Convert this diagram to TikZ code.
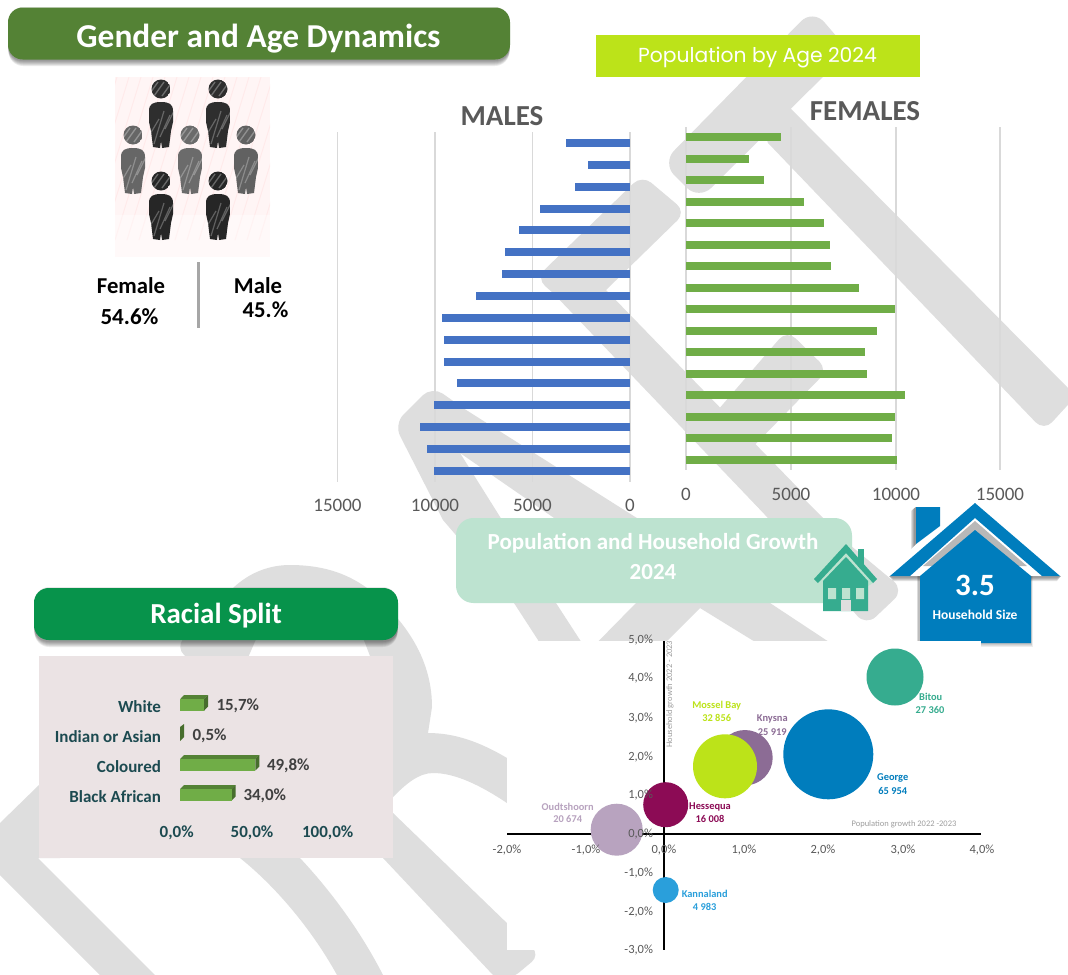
\documentclass[tikz,border=0pt]{standalone}
\usepackage{fontspec}
\setmainfont{Carlito}
\newfontfamily\popfont{Poppins}
\usetikzlibrary{calc}
\definecolor{wm}{HTML}{DEDEDE}
\definecolor{gridc}{HTML}{D9D9D9}
\definecolor{malec}{HTML}{4472C4}
\definecolor{femc}{HTML}{70AD47}
\definecolor{darkgr}{HTML}{548235}
\definecolor{tealh}{HTML}{36AC8F}
\definecolor{blueh}{HTML}{007DBD}
\definecolor{lime}{HTML}{BCE319}
\definecolor{axt}{HTML}{595959}
\definecolor{racet}{HTML}{1C4A50}
\definecolor{mint}{RGB}{189,227,208}
\definecolor{raceg}{RGB}{7,147,75}
\definecolor{pinkb}{RGB}{235,227,228}
\newcommand{\pxf}[1]{\fontsize{\dimexpr#1pt*3/4\relax}{\dimexpr#1pt*9/10\relax}\selectfont}
% soft shadow: x1 y1 x2 y2 radius(pt)
\newcommand{\softshade}[5]{%
  \foreach \g in {0,1,...,5}{%
    \fill[black,opacity=.08,rounded corners=#5]
      ({#1+\g*.1},{#2+3-\g*.8}) rectangle ({#3-\g*.1},{#4+2+\g*1.0});}}
\newcommand{\personfig}[3]{% cx, y head, colour
  \begin{scope}[shift={(#1,#2)}]
    \begin{scope}
      \clip (0,0) circle (9.5);
      \fill[#3] (0,0) circle (9.5);
      \foreach \q in {-8,-2,6}{\draw[white,opacity=.3,line width=1pt] (\q-5,7)--(\q+5,-7);}
    \end{scope}
    \begin{scope}
      \clip (-12,22) .. controls (-12,15) and (-8,13) .. (0,13) .. controls (8,13) and (12,15) .. (12,22)
        -- (12,33) -- (10,42) -- (8,58) -- (1,59) -- (0,52) -- (-1,59) -- (-8,58) -- (-10,42) -- (-12,33) -- cycle;
      \fill[#3] (-13,12) rectangle (13,60);
      \foreach \q/\a/\b in {-7/47/30,-2/55/22,4/48/26,9/40/20}{\draw[white,opacity=.27,line width=.9pt] (\q-5,\a)--(\q+5,\b);}
    \end{scope}
  \end{scope}}
\tikzset{
  txt/.style={inner sep=0pt,outer sep=0pt,anchor=center},
  gridl/.style={gridc,line width=.9pt},
  axnum/.style={txt,text=axt},
  bnum/.style={txt,text=axt,font=\pxf{12.5}},
  racelab/.style={txt,anchor=east,text=racet,font=\pxf{17}\bfseries},
  raceval/.style={txt,anchor=west,text=black!75,font=\pxf{17}\bfseries},
  raceax/.style={txt,text=racet,font=\pxf{17}\bfseries},
  bub/.style={txt,font=\pxf{10.4}\bfseries},
}
\begin{document}
\begin{tikzpicture}[x=0.75pt,y=-0.75pt]
\useasboundingbox (0,0) rectangle (1068,975);
\clip (0,0) rectangle (1068,975);
\fill[white] (0,0) rectangle (1068,975);
% ---------- watermark ----------
\fill[wm,rounded corners=13pt] (813,9) -- (849,51) -- (699,200) -- (662,163) -- cycle;
\fill[wm] (790,108) -- (806,124) [rounded corners=9pt] -- (1076,396) -- (1044,431) [sharp corners] -- (768,143) -- (760,120) -- cycle;
\fill[wm,rounded corners=9pt] (642,175) -- (686,212) [sharp corners] -- (606,290) -- (800,490) -- (770,520) -- (553,293) [rounded corners=9pt] -- (536,278) -- cycle;
\fill[wm] (748,443) -- (825,520) -- (850,545) [rounded corners=10pt] -- (904,590) -- (866,626) [sharp corners] -- (835,590) -- (770,520) -- (715,460) -- cycle;
\fill[wm,rounded corners=9pt] (787,330) -- (828,370) [sharp corners] -- (745,455) -- (705,425) [rounded corners=9pt] -- cycle;
\fill[wm] (463,408) -- (640,520) -- (770,603) -- (826,640) -- (860,662) -- (790,662) -- (752,640) -- (700,608) -- (557,520) -- (460,453) -- (502,520) -- (556,603) -- (580,640) -- (595,662) -- (548,662) -- (538,640) -- (514,603) -- (443,520) [rounded corners=10pt] -- (394,424) -- (432,386) [sharp corners] -- cycle;
\fill[wm] (672,565) -- (737,572) -- (700,608) -- (668,640) -- (645,662) -- (578,662) -- (636,603) -- cycle;
% dome
\fill[wm] (233,588) .. controls (250,572) and (270,565) .. (290,565) .. controls (320,565) and (345,572) .. (367,588)
  .. controls (395,612) and (432,650) .. (432,707) -- (428,733) .. controls (455,733) and (480,742) .. (507,758)
  -- (507,803) .. controls (480,785) and (455,773) .. (433,773) .. controls (418,773) and (405,785) .. (393,797)
  -- (370,800) -- (370,656) -- (360,630) -- (260,630) -- (247,660) -- (190,660) [rounded corners=8pt] -- (176,648) -- (200,618) [sharp corners] -- cycle;
% lower-left
\fill[wm] (60,765) -- (39,785) -- (0,823) -- (-10,840) -- (-10,865) -- (0,875) -- (100,975) -- (155,975) -- (38,858) -- (60,858) -- cycle;
\fill[wm] (240,858) .. controls (280,890) and (315,935) .. (337,975) -- (383,975) .. controls (360,930) and (330,890) .. (300,858) -- (300,840) -- (240,840) -- cycle;
\fill[wm] (393,813) -- (380,840) -- (383,858) -- (493,975) [rounded corners=8pt] -- (510,980) -- (540,955) [sharp corners] -- cycle;
% ---------- Gender and Age ----------
\softshade{8}{8}{510}{59}{11pt}
\node[txt,minimum width=376.5pt,minimum height=39pt,fill=darkgr,rounded corners=11pt] (genderbar) at (259,33.5) {};
\node[txt,text=white,font=\pxf{33.4}\bfseries] (gendertext) at (258.5,38.5) {Gender and Age Dynamics};
% people picture
\fill[red!4!white] (115,77) rectangle (270,257);
\begin{scope}
  \clip (115,77) rectangle (270,257);
  \foreach \q in {-60,-48,...,260}{\draw[red!12!white,opacity=.5,line width=.7pt] (\q+115,240)--(\q+165,77);}
  \fill[white,opacity=.4] (115,215) rectangle (270,257);
\end{scope}
\foreach \cx/\hy/\cl in {161/89/black!82,218/89/black!82,161/181/black!85,218/181/black!85,133/135/black!60,190/135/black!58,246/135/black!62}{
  \personfig{\cx}{\hy}{\cl}}
\draw[line width=2.2pt,black!35] (198.5,262) -- (198.5,328);
\node[txt,font=\pxf{22.7}\bfseries] (femt) at (131,286) {Female};
\node[txt,font=\pxf{23}\bfseries] (femv) at (129.5,317) {54.6\%};
\node[txt,font=\pxf{22.7}\bfseries] (malt) at (258,286) {Male};
\node[txt,font=\pxf{22.7}\bfseries] (malv) at (265.5,310) {45.\%};
% ---------- Pyramid ----------
\node[txt,minimum width=243pt,minimum height=31.5pt,fill=lime] (popage) at (758,56) {};
\node[txt,text=white,font=\popfont\pxf{20.3}] (popagetext) at (757.5,58) {Population by Age 2024};
\foreach \x in {337.5,435,532.5,630}{\draw[gridl] (\x,132) -- (\x,482);}
\foreach \x in {686,791,896,1000}{\draw[gridl] (\x,127) -- (\x,470);}
\foreach \e [count=\i from 0] in {566.4,587.9,574.5,539.7,518.8,505.4,501.6,475.9,441.5,444.4,444.4,457.3,433.9,419.6,426.8,433.9}{
  \fill[malec] (\e,{143-4+\i*21.85}) rectangle (630,{143+4+\i*21.85});}
\foreach \e [count=\i from 0] in {781.4,749,764.2,803.8,823.8,830,831.4,858.6,895.3,877.2,865.3,867.2,904.9,895.3,891.5,896.7}{
  \fill[femc] (686,{137.3-4+\i*21.495}) rectangle (\e,{137.3+4+\i*21.495});}
\node[txt,text=axt,font=\pxf{29}\bfseries] (males) at (502,116) {MALES};
\node[txt,text=axt,font=\pxf{29}\bfseries] (females) at (865,111) {FEMALES};
\foreach \x/\t in {337.5/15000,435/10000,532.5/5000,630/0}{\node[axnum,font=\pxf{19}] at (\x,505.5) {\t};}
\foreach \x/\t in {686/0,791/5000,896/10000,1000/15000}{\node[axnum,font=\pxf{19}] at (\x,494.5) {\t};}
% ---------- Population and Household growth ----------
\node[txt,minimum width=297pt,minimum height=63.75pt,fill=mint,rounded corners=13pt] (growthbox) at (654,560.5) {};
\node[txt,text=white,font=\pxf{23}\bfseries] (growtha) at (653,543) {Population and Household Growth};
\node[txt,text=white,font=\pxf{23}\bfseries] (growthb) at (653,572) {2024};
% small house
\fill[tealh] (858,549) rectangle (864,570);
\fill[mint] (846,553) -- (873,583) -- (868,586) -- (823,586) -- (818,583) -- cycle;
\fill[tealh] (846,544) -- (877,579) -- (873,583) -- (846,553) -- (818,583) -- (814,579) -- cycle;
\fill[tealh] (846,557) -- (868,581) -- (868,611) -- (823,611) -- (823,581) -- cycle;
\fill[mint] (828,588) rectangle (836,599) (842,588) rectangle (850,599) (856,588) rectangle (864,599);
\fill[wm] (841,611) -- (841,600) -- (851,600) -- (851,611) -- cycle;
% big house
\foreach \g in {0,1,2,3}{\fill[black,opacity=.12] ({911+\g},{511-\g}) -- (916,507) -- (916,544) -- ({911+\g},{549-\g}) -- cycle;}
\foreach \g in {0,1,2,3}{\fill[black,opacity=.11] (889,576) -- (920,576) -- (920,{578+\g}) -- (893,{578+\g}) -- cycle;
  \fill[black,opacity=.11] (1061,576) -- (1031,576) -- (1031,{578+\g}) -- (1057,{578+\g}) -- cycle;}
\foreach \g in {0,1,2,3}{\fill[black,opacity=.07] ({918-\g*.5},576) rectangle ({1031+\g*.5},{644+\g});}
\fill[blueh] (916,507) -- (940,507) -- (940,526) -- (916,544) -- cycle;
\fill[black,opacity=.28] (975,521) -- (1027,566) -- (923,566) -- cycle;
\fill[blueh] (975,503) -- (1060,576) -- (1042,576) -- (975,518) -- (910,576) -- (890,576) -- cycle;
\fill[blueh] (975,530) -- (1031,576) -- (1031,643) -- (920,643) -- (920,576) -- cycle;
\node[txt,text=white,font=\pxf{31}\bfseries] (hhv) at (975,585) {3.5};
\node[txt,text=white,font=\pxf{13.5}\bfseries] (hht) at (975,615) {Household Size};
% ---------- Racial split ----------
\softshade{34}{588}{398}{640}{11pt}
\node[txt,minimum width=273pt,minimum height=39pt,fill=raceg,rounded corners=11pt] (racebar) at (216,614) {};
\node[txt,text=white,font=\pxf{29}\bfseries] (racetext) at (216,615.5) {Racial Split};
\fill[pinkb] (39,656) rectangle (393,858);
\node[racelab] (rw) at (161,707) {White};
\node[racelab] (ri) at (161,737) {Indian or Asian};
\node[racelab] (rc) at (161,767) {Coloured};
\node[racelab] (rb) at (161,797) {Black African};
\foreach \a/\t/\e in {699.3/695/204,759/755/255.3,789/785/231.7}{
  \fill[darkgr] (180,\a) -- ({180+4},\t) -- ({\e+4},\t) -- (\e,\a) -- cycle;
  \fill[darkgr!85!black] (\e,\a) -- ({\e+4},\t) -- ({\e+4},{\t+11.5}) -- (\e,{\a+11.5}) -- cycle;
  \fill[femc] (180,\a) rectangle (\e,{\a+11.5});}
\fill[darkgr!85!black] (180,727) -- (184,724) -- (184,737) -- (180,741) -- cycle;
\node[raceval] (vw) at (216.5,706) {15,7\%};
\node[raceval] (vi) at (192.5,736) {0,5\%};
\node[raceval] (vc) at (267,765.5) {49,8\%};
\node[raceval] (vb) at (243.5,795.5) {34,0\%};
\node[raceax] (a0) at (176.7,833) {0,0\%};
\node[raceax] (a5) at (252,833) {50,0\%};
\node[raceax] (a10) at (327.7,833) {100,0\%};
% ---------- Bubble chart ----------
\fill[white] (507,641) rectangle (981,950);
\draw[black,line width=1.9pt] (664,641) -- (664,950);
\draw[black,line width=1.9pt] (507,834) -- (981,834);
\foreach \x/\y/\r/\c in {745/757.7/27.7/8C6C95,725/766.3/32/BCE319,828.3/754.3/45/007DBD,895/677/28.5/36AC8F,616.7/829.7/26/B8A3BF,665.7/804.7/22.5/8C0B55,665.7/890/13/2A9FDB}{
  \definecolor{bc}{HTML}{\c}\fill[bc] (\x,\y) circle (\r);}
\foreach \y/\t in {640/{5,0\%},678/{4,0\%},717.7/{3,0\%},756.7/{2,0\%},795/{1,0\%},834/{0,0\%},872.7/{-1,0\%},911.7/{-2,0\%},950/{-3,0\%}}{\node[bnum,anchor=east] at (653,\y) {\t};}
\foreach \x/\t in {507/{-2,0\%},586/{-1,0\%},664/{0,0\%},744/{1,0\%},823/{2,0\%},903/{3,0\%},982/{4,0\%}}{\node[bnum] at (\x,850) {\t};}
\node[txt,rotate=90,text=black!38,font=\pxf{8.5}] (haxis) at (670,694) {Household growth 2022 - 2023};
\node[txt,text=black!38,font=\pxf{8.5}] (paxis) at (904,824) {Population growth 2022 -2023};
\definecolor{cmb}{HTML}{BCE319}\definecolor{ckn}{HTML}{8C6C95}\definecolor{cou}{HTML}{B8A3BF}\definecolor{che}{HTML}{8C0B55}\definecolor{cka}{HTML}{2A9FDB}\definecolor{cbi}{HTML}{36AC8F}\definecolor{cge}{HTML}{007DBD}
\node[bub,text=cmb] (l1) at (716.7,705.3) {Mossel Bay};
\node[bub,text=cmb] (l2) at (716.7,717.7) {32 856};
\node[bub,text=ckn] (l3) at (772.3,719) {Knysna};
\node[bub,text=ckn] (l4) at (772.3,731.7) {25 919};
\node[bub,text=cou] (l5) at (567.7,806.7) {Oudtshoorn};
\node[bub,text=cou] (l6) at (567.7,819.3) {20 674};
\node[bub,text=che] (l7) at (710,806.7) {Hessequa};
\node[bub,text=che] (l8) at (710,819.3) {16 008};
\node[bub,text=cka] (l9) at (704.7,894) {Kannaland};
\node[bub,text=cka] (l10) at (704.7,906.7) {4 983};
\node[bub,text=cbi] (l11) at (930.7,697) {Bitou};
\node[bub,text=cbi] (l12) at (930,710) {27 360};
\node[bub,text=cge] (l13) at (892.7,778.3) {George};
\node[bub,text=cge] (l14) at (892.7,790.7) {65 954};
\end{tikzpicture}
\end{document}
